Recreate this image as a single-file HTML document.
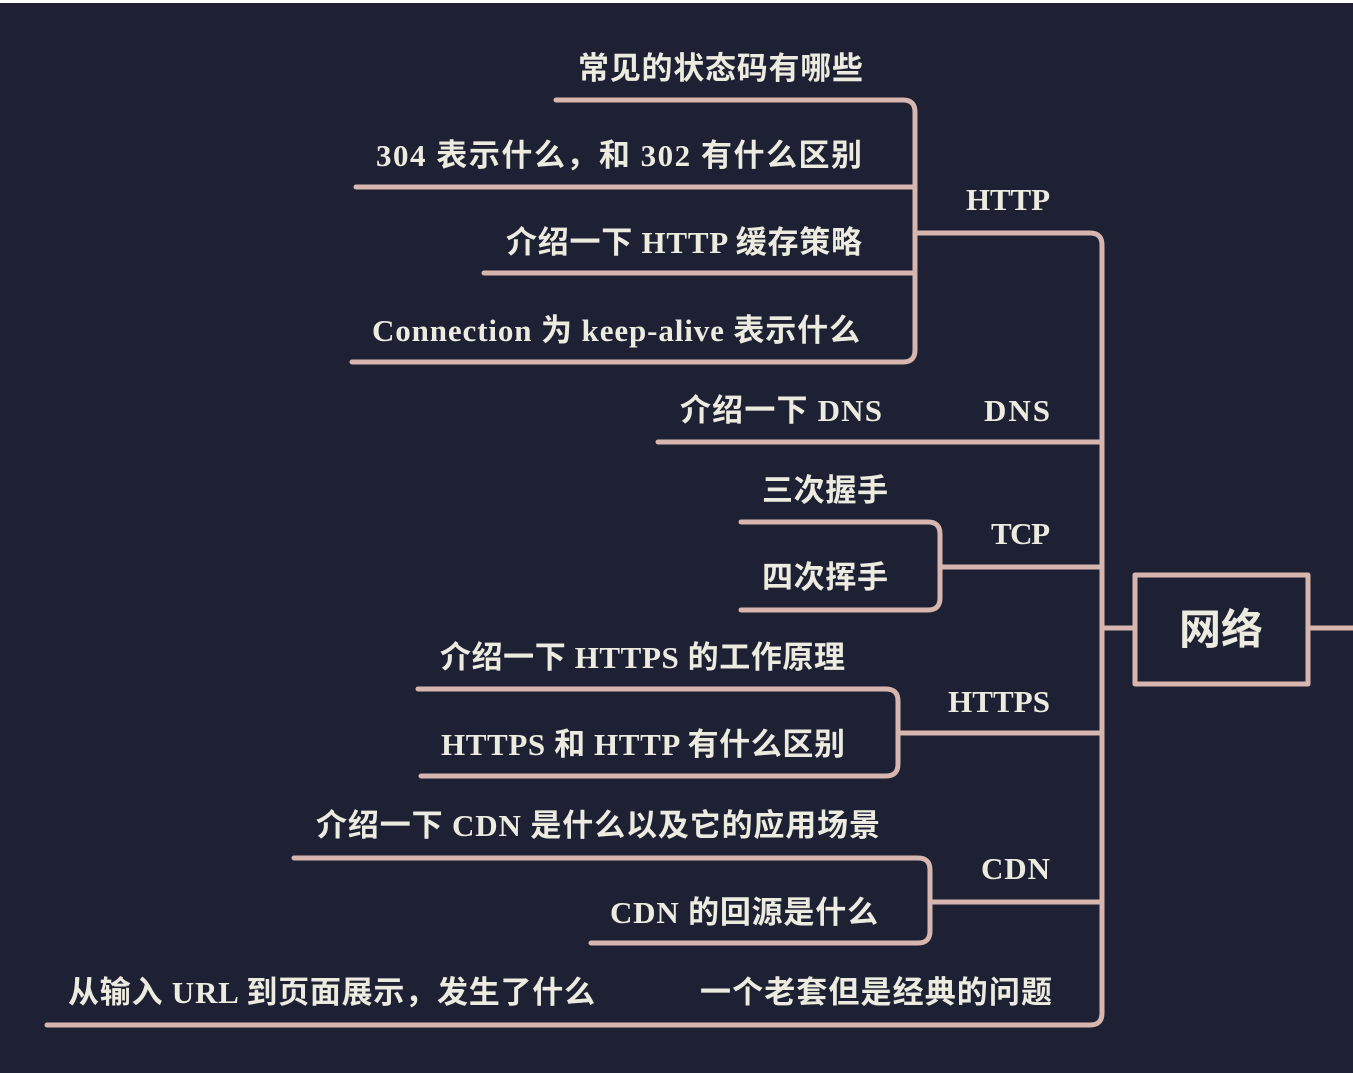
<!DOCTYPE html>
<html><head><meta charset="utf-8"><style>
html,body{margin:0;padding:0;background:#1e2133;}
svg{display:block}
text{font-family:"Liberation Serif","Noto Sans CJK SC",serif;font-size:31px;font-weight:bold;fill:#ecebe0;}
</style></head><body>
<svg width="1353" height="1073" viewBox="0 0 1353 1073">
<rect x="0" y="0" width="1353" height="1073" fill="#1e2133"/>
<rect x="0" y="0" width="1353" height="3" fill="#ffffff"/>
<g fill="none" stroke="#d6b6ae" stroke-width="5" stroke-linecap="round" stroke-linejoin="round">
<path d="M915 233 H1090 Q1102 233 1102 245 V1013 Q1102 1025 1090 1025 H47"/>
<path d="M658 442 H1102"/>
<path d="M940 567 H1102"/>
<path d="M898 733 H1102"/>
<path d="M930 902 H1102"/>
<path d="M1102 628 H1135"/>
<rect x="1135" y="575" width="173" height="109"/>
<path d="M1308 628 H1353"/>
<path d="M556 100 H903 Q915 100 915 112 V350 Q915 362 903 362 H352"/>
<path d="M356 187 H915"/>
<path d="M484 273 H915"/>
<path d="M741 522 H928 Q940 522 940 534 V598 Q940 610 928 610 H741"/>
<path d="M418 689 H886 Q898 689 898 701 V764 Q898 776 886 776 H421"/>
<path d="M294 858 H918 Q930 858 930 870 V931 Q930 943 918 943 H591"/>
</g>
<g lengthAdjust="spacing">
<text x="578" y="79" textLength="285">常见的状态码有哪些</text>
<text x="376" y="166" textLength="486">304 表示什么，和 302 有什么区别</text>
<text x="506" y="253" textLength="356">介绍一下 HTTP 缓存策略</text>
<text x="372" y="341" textLength="488">Connection 为 keep-alive 表示什么</text>
<text x="966" y="210" textLength="84">HTTP</text>
<text x="680" y="421" textLength="202">介绍一下 DNS</text>
<text x="984" y="421" textLength="66">DNS</text>
<text x="762" y="501" textLength="126">三次握手</text>
<text x="762" y="588" textLength="126">四次挥手</text>
<text x="991" y="544" textLength="59">TCP</text>
<text x="440" y="668" textLength="405">介绍一下 HTTPS 的工作原理</text>
<text x="441" y="755" textLength="404">HTTPS 和 HTTP 有什么区别</text>
<text x="948" y="712" textLength="102">HTTPS</text>
<text x="316" y="836" textLength="564">介绍一下 CDN 是什么以及它的应用场景</text>
<text x="610" y="923" textLength="268">CDN 的回源是什么</text>
<text x="981" y="879" textLength="69">CDN</text>
<text x="700" y="1003" textLength="352">一个老套但是经典的问题</text>
<text x="68" y="1003" textLength="527">从输入 URL 到页面展示，发生了什么</text>
</g>
<text x="1221" y="644" text-anchor="middle" style="font-size:42px;font-family:'Noto Sans CJK SC',sans-serif">网络</text>
</svg>
</body></html>
